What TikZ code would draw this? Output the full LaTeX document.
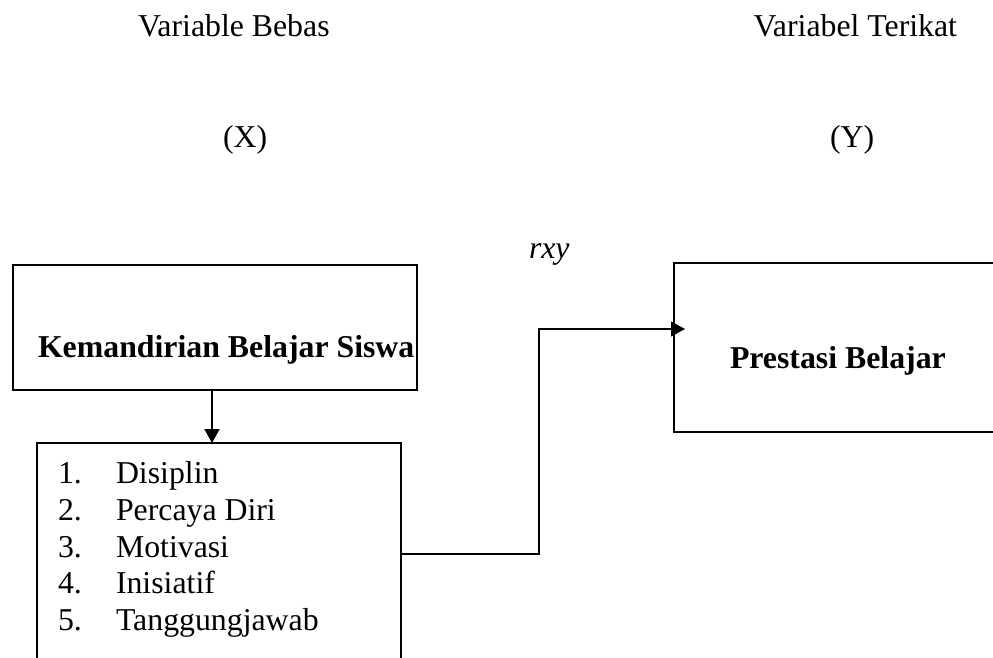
\documentclass[tikz,border=0pt]{standalone}
\usepackage{fontspec}
\setmainfont{Liberation Serif}
\usetikzlibrary{arrows.meta}
\tikzset{
  txt/.style={inner sep=0pt, outer sep=0pt, anchor=base west, font=\fontsize{31.8}{38}\selectfont},
  boldtxt/.style={txt, font=\fontsize{31.8}{38}\selectfont\bfseries},
  boxthick/.style={draw, line width=1.9pt, rectangle, inner sep=0pt, outer sep=0pt},
  boxthin/.style={draw, line width=1.5pt, rectangle, inner sep=0pt, outer sep=0pt},
  arr/.style={-{Triangle[length=14pt,width=15pt]}},
}
\begin{document}
\begin{tikzpicture}[x=1pt,y=-1pt]
\clip (0,0) rectangle (993,657);
\fill[white] (0,0) rectangle (993,657);
% headings
\node[txt] (hx) at (138,36) {Variable Bebas};
\node[txt, anchor=base east] (hy) at (957,36) {Variabel Terikat};
\node[txt] (lx) at (223,147) {(X)};
\node[txt] (ly) at (830,147) {(Y)};
\node[txt, font=\fontsize{31.8}{38}\selectfont\itshape] (rxy) at (529,258) {rxy};
% boxes
\node[boxthick, minimum width=404pt, minimum height=125pt] (kem) at (215,327.5) {};
\node[boldtxt] (kemt) at (38,357) {Kemandirian Belajar Siswa};
\node[boxthick, minimum width=340pt, minimum height=169pt] (pres) at (844,347.5) {};
\node[boldtxt] (prest) at (730,368) {Prestasi Belajar};
\node[boxthin, minimum width=364pt, minimum height=222pt] (list) at (219,554) {};
% list items
\foreach \n/\t/\y in {1/Disiplin/483, 2/Percaya Diri/520, 3/Motivasi/557, 4/Inisiatif/593, 5/Tanggungjawab/630}{
  \node[txt] (num\n) at (58,\y) {\n.};
  \node[txt] (item\n) at (116,\y) {\t};
}
% connectors
\draw[arr, line width=1.8pt] ([xshift=-3pt]kem.south) -- ([xshift=-7pt]list.north);
\coordinate (cin) at (674,329);
\draw[arr, line width=1.1pt, shorten >=-11pt] (list.east) -- (539,554) -- (539,329) -- (cin);
\end{tikzpicture}
\end{document}
